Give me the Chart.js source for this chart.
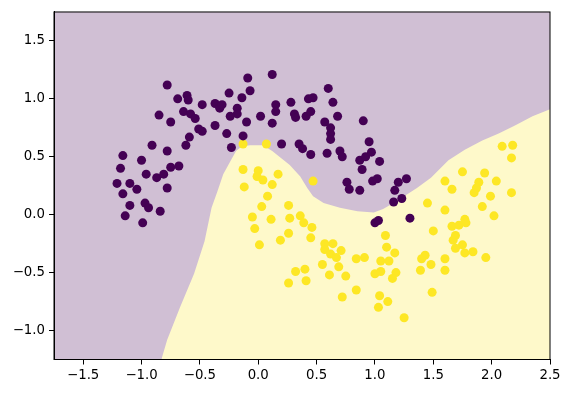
<!DOCTYPE html>
<html>
<head>
<meta charset="utf-8">
<script src="https://cdn.jsdelivr.net/npm/chart.js@4/dist/chart.umd.min.js"></script>
<style>
  html, body { margin: 0; padding: 0; background: #fff; }
  #wrap { width: 570px; height: 393px; }
</style>
</head>
<body>
<div id="wrap"><canvas id="moons"></canvas></div>
<script>
// class 0 (upper moon), [x, y]
const class0 = [
  [-0.78, 1.12], [-0.69, 1.00], [-0.61, 1.03], [-0.60, 0.99], [-0.48, 0.95],
  [-0.85, 0.86], [-0.75, 0.80], [-0.64, 0.89], [-0.58, 0.87], [-0.54, 0.83],
  [-0.51, 0.74], [-0.48, 0.72], [-0.59, 0.67], [-0.62, 0.60], [-0.91, 0.60],
  [-0.78, 0.55], [-1.16, 0.51], [-1.00, 0.47], [-1.18, 0.40], [-0.96, 0.35],
  [-0.87, 0.32], [-0.81, 0.35], [-0.75, 0.41], [-0.68, 0.42], [-1.21, 0.27],
  [-1.10, 0.27], [-1.04, 0.22], [-0.78, 0.23], [-1.16, 0.18], [-1.10, 0.08],
  [-0.97, 0.10], [-0.94, 0.06], [-0.84, 0.03], [-1.14, -0.01], [-0.99, -0.07],
  [-0.09, 1.18], [0.12, 1.21], [-0.25, 1.05], [-0.07, 1.07], [-0.14, 1.01],
  [-0.37, 0.96], [-0.33, 0.92], [-0.31, 0.95], [-0.18, 0.92], [-0.18, 0.87],
  [-0.24, 0.85], [-0.10, 0.80], [0.02, 0.85], [0.15, 0.95], [0.15, 0.89],
  [0.12, 0.79], [0.28, 0.97], [0.43, 1.00], [0.47, 1.01], [0.31, 0.87],
  [0.32, 0.84], [0.41, 0.85], [0.45, 0.89], [-0.37, 0.77], [-0.27, 0.70],
  [-0.13, 0.68], [-0.23, 0.58], [0.20, 0.61], [0.35, 0.61], [0.38, 0.57],
  [0.45, 0.52], [0.60, 1.09], [0.64, 0.97], [0.68, 0.85], [0.57, 0.80],
  [0.62, 0.75], [0.62, 0.70], [0.62, 0.65], [0.90, 0.81], [0.95, 0.63],
  [0.59, 0.53], [0.70, 0.55], [0.72, 0.50], [0.87, 0.47], [0.92, 0.50],
  [0.97, 0.54], [1.04, 0.46], [0.89, 0.39], [0.76, 0.28], [0.78, 0.22],
  [0.87, 0.21], [0.98, 0.29], [1.02, 0.31], [1.20, 0.28], [1.27, 0.31],
  [1.17, 0.21], [1.23, 0.14], [1.16, 0.11], [1.00, -0.07], [1.03, -0.05],
  [1.30, -0.03]
];

// class 1 (lower moon), [x, y]
const class1 = [
  [-0.13, 0.61], [0.07, 0.61], [-0.13, 0.39], [0.00, 0.38], [-0.01, 0.33],
  [0.04, 0.30], [0.17, 0.35], [0.12, 0.26], [-0.12, 0.24], [0.08, 0.16],
  [0.47, 0.29], [0.03, 0.07], [0.26, 0.08], [-0.05, -0.02], [0.11, -0.04],
  [0.27, -0.03], [0.36, -0.01], [0.39, -0.07], [0.46, -0.11], [-0.03, -0.12],
  [0.26, -0.16], [0.45, -0.20], [0.19, -0.22], [0.01, -0.26], [0.32, -0.49],
  [0.40, -0.47], [0.26, -0.59], [0.41, -0.57], [0.57, -0.25], [0.64, -0.25],
  [0.57, -0.30], [0.71, -0.31], [0.62, -0.34], [0.67, -0.37], [0.55, -0.43],
  [0.69, -0.45], [0.61, -0.52], [0.75, -0.53], [0.84, -0.38], [0.91, -0.37],
  [1.09, -0.18], [1.10, -0.28], [1.17, -0.33], [1.05, -0.40], [1.12, -0.40],
  [1.00, -0.51], [1.05, -0.49], [1.18, -0.50], [1.15, -0.55], [0.72, -0.71],
  [0.84, -0.65], [1.04, -0.70], [1.11, -0.75], [1.03, -0.80], [1.25, -0.89],
  [2.09, 0.59], [2.18, 0.60], [2.17, 0.49], [1.75, 0.37], [1.94, 0.36],
  [2.04, 0.29], [1.60, 0.29], [1.66, 0.22], [1.89, 0.28], [1.87, 0.23],
  [1.85, 0.19], [1.99, 0.16], [2.17, 0.19], [1.45, 0.10], [1.60, 0.04],
  [1.92, 0.07], [2.02, -0.01], [1.50, -0.14], [1.66, -0.10], [1.72, -0.09],
  [1.77, -0.04], [1.78, -0.07], [1.69, -0.18], [1.67, -0.22], [1.75, -0.26],
  [1.69, -0.29], [1.77, -0.33], [1.84, -0.32], [1.95, -0.37], [1.43, -0.35],
  [1.40, -0.38], [1.48, -0.43], [1.60, -0.38], [1.39, -0.48], [1.60, -0.48],
  [1.49, -0.67]
];

// decision boundary, class 1 region lies below it
const boundary = [
  [-0.83, -1.25], [-0.78, -1.08], [-0.67, -0.80], [-0.55, -0.51], [-0.46, -0.23],
  [-0.40, 0.06], [-0.35, 0.20], [-0.30, 0.35], [-0.24, 0.46], [-0.19, 0.55],
  [-0.14, 0.59], [-0.07, 0.60], [0.04, 0.60], [0.12, 0.55], [0.27, 0.43],
  [0.36, 0.33], [0.42, 0.23], [0.47, 0.16], [0.56, 0.10], [0.70, 0.06],
  [0.85, 0.03], [0.99, 0.02], [1.07, 0.05], [1.16, 0.10], [1.25, 0.16],
  [1.36, 0.23], [1.48, 0.32], [1.63, 0.47], [1.77, 0.56], [1.92, 0.64],
  [2.06, 0.70], [2.20, 0.77], [2.35, 0.85], [2.50, 0.91]
];

const xTicks = [-1.5, -1.0, -0.5, 0.0, 0.5, 1.0, 1.5, 2.0, 2.5];
const yTicks = [-1.0, -0.5, 0.0, 0.5, 1.0, 1.5];

const purple = "#440154";
const yellow = "#fde725";
const font = { family: "DejaVu Sans", size: 13.3 };

const fmt = (v) => (v < 0 ? "\u2212" : "") + Math.abs(v).toFixed(1);
const toPts = (arr) => arr.map((p) => ({ x: p[0], y: p[1] }));

// purple region behind everything, frame on top
const areaPlugin = {
  id: "area",
  beforeDraw(chart) {
    const a = chart.chartArea;
    const ctx = chart.ctx;
    ctx.save();
    ctx.fillStyle = "rgb(208, 191, 212)";
    ctx.fillRect(a.left, a.top, a.right - a.left, a.bottom - a.top);
    ctx.restore();
  },
  afterDraw(chart) {
    const a = chart.chartArea;
    const ctx = chart.ctx;
    ctx.save();
    ctx.strokeStyle = "#000";
    ctx.lineWidth = 1;
    ctx.strokeRect(a.left, a.top, a.right - a.left, a.bottom - a.top);
    ctx.restore();
  },
};

new Chart(document.getElementById("moons"), {
  type: "scatter",
  data: {
    datasets: [
      {
        data: toPts(class0),
        backgroundColor: purple,
        pointRadius: 4.5,
        borderWidth: 0,
        order: 1,
      },
      {
        data: toPts(class1),
        backgroundColor: yellow,
        pointRadius: 4.5,
        borderWidth: 0,
        order: 2,
      },
      {
        type: "line",
        data: toPts(boundary),
        showLine: true,
        borderWidth: 0,
        borderColor: "rgba(0,0,0,0)",
        pointRadius: 0,
        backgroundColor: "rgb(254, 249, 202)",
        fill: "start",
        tension: 0,
        order: 10,
      },
    ],
  },
  options: {
    responsive: true,
    maintainAspectRatio: false,
    animation: false,
    layout: { padding: { left: 0, right: 20, top: 9, bottom: 0 } },
    plugins: {
      legend: { display: false },
      tooltip: { enabled: false },
    },
    scales: {
      x: {
        type: "linear",
        min: -1.75,
        max: 2.5,
        afterBuildTicks: (s) => { s.ticks = xTicks.map((v) => ({ value: v })); },
        afterFit: (s) => { s.height = 33.5; },
        grid: { drawOnChartArea: false, drawTicks: true, tickLength: 5, color: "#000" },
        border: { display: true, color: "#000" },
        ticks: { callback: fmt, color: "#000", font: font, padding: 3, maxRotation: 0 },
      },
      y: {
        type: "linear",
        min: -1.25,
        max: 1.75,
        afterBuildTicks: (s) => { s.ticks = yTicks.map((v) => ({ value: v })); },
        afterFit: (s) => { s.width = 54; },
        grid: { drawOnChartArea: false, drawTicks: true, tickLength: 5, color: "#000" },
        border: { display: true, color: "#000" },
        ticks: { callback: fmt, color: "#000", font: font, padding: 4 },
      },
    },
  },
  plugins: [areaPlugin],
});
</script>
</body>
</html>
